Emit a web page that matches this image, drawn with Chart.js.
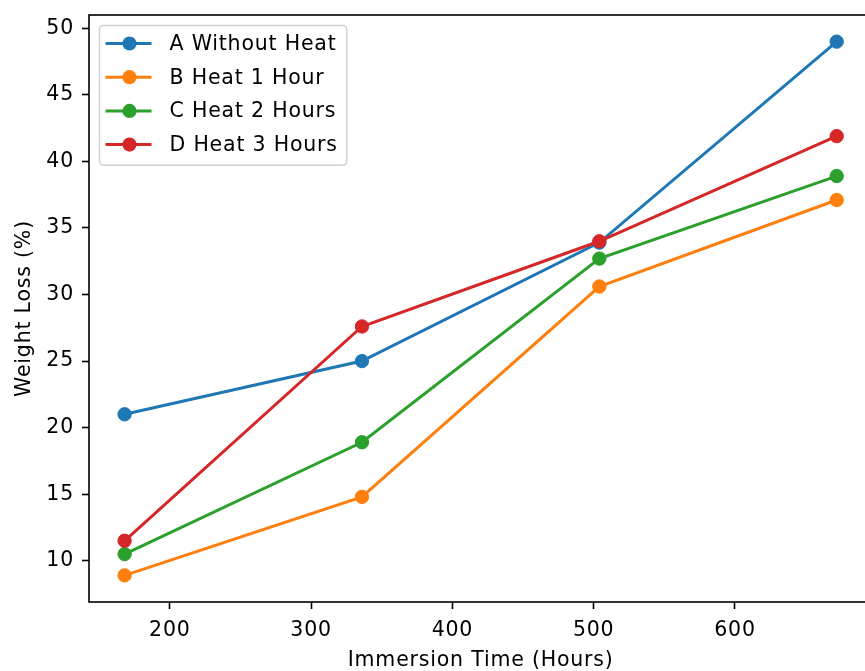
<!DOCTYPE html>
<html>
<head>
<meta charset="utf-8">
<title>Weight Loss vs Immersion Time</title>
<script src="https://cdn.jsdelivr.net/npm/chart.js@4.4.1/dist/chart.umd.min.js"></script>
<style>
	html, body { margin: 0; padding: 0; background: #fff; overflow: hidden; }
	#grafik { display: block; }
</style>
</head>
<body>
<canvas id="grafik" width="880" height="671"></canvas>
<script>
// immersion time (hours)
var jam = [168, 336, 504, 672];

// weight loss (%)
var tanpaPanas = [21.0, 25.0, 33.9, 49.0];
var panas1Jam = [8.9, 14.8, 30.6, 37.1];
var panas2Jam = [10.5, 18.9, 32.7, 38.9];
var panas3Jam = [11.5, 27.6, 34.0, 41.9];

var label = ['A Without Heat', 'B Heat 1 Hour', 'C Heat 2 Hours', 'D Heat 3 Hours'];

var xTicks = [200, 300, 400, 500, 600];
var yTicks = [10, 15, 20, 25, 30, 35, 40, 45, 50];

var warna = ['#1f77b4', '#ff7f0e', '#2ca02c', '#d62728'];
var FONT = 20.5;
var SPASI = '0.8px';

function titik(values) {
	var out = [];
	for (var i = 0; i < jam.length; i++) {
		out.push({ x: jam[i], y: values[i] });
	}
	return out;
}

function dataset(i, values) {
	return {
		label: label[i],
		data: titik(values),
		borderColor: warna[i],
		backgroundColor: warna[i],
		pointBackgroundColor: warna[i],
		pointBorderColor: warna[i],
		borderWidth: 3,
		pointRadius: 6.7,
		pointBorderWidth: 1,
		pointHoverRadius: 6.7,
		tension: 0,
		// later series on top, like matplotlib
		order: 3 - i
	};
}

// matplotlib text runs a bit wider than canvas text
var spasi = {
	id: 'spasi',
	beforeLayout: function (chart) { chart.ctx.letterSpacing = SPASI; },
	beforeDraw: function (chart) { chart.ctx.letterSpacing = SPASI; }
};

// axes frame drawn on all four sides
var bingkai = {
	id: 'bingkai',
	afterDatasetsDraw: function (chart) {
		var a = chart.chartArea;
		var ctx = chart.ctx;
		ctx.save();
		ctx.strokeStyle = '#000';
		ctx.lineWidth = 1.6;
		ctx.strokeRect(a.left, a.top, a.right - a.left, a.bottom - a.top);
		ctx.restore();
	}
};

// legend inside the plot, upper left
var legenda = {
	id: 'legenda',
	afterDraw: function (chart) {
		var a = chart.chartArea;
		var ctx = chart.ctx;
		var sets = chart.data.datasets;
		var x0 = a.left + 10.5;
		var y0 = a.top + 10.5;
		var rowH = 33.7;
		var textX = x0 + 70;
		ctx.save();
		ctx.letterSpacing = SPASI;
		ctx.font = FONT + 'px "DejaVu Sans"';
		var maxW = 0;
		for (var i = 0; i < sets.length; i++) {
			maxW = Math.max(maxW, ctx.measureText(sets[i].label).width);
		}
		var w = textX + maxW + 9 - x0;
		var h = rowH * sets.length + 5;

		ctx.beginPath();
		ctx.roundRect(x0, y0, w, h, 4);
		ctx.fillStyle = 'rgba(255,255,255,0.8)';
		ctx.fill();
		ctx.strokeStyle = '#d0d0d0';
		ctx.lineWidth = 1.5;
		ctx.stroke();

		for (var i = 0; i < sets.length; i++) {
			var cy = y0 + 18 + i * rowH;
			ctx.strokeStyle = sets[i].borderColor;
			ctx.lineWidth = 3;
			ctx.beginPath();
			ctx.moveTo(x0 + 6, cy);
			ctx.lineTo(x0 + 52, cy);
			ctx.stroke();
			ctx.fillStyle = sets[i].borderColor;
			ctx.beginPath();
			ctx.arc(x0 + 30, cy, 7.1, 0, Math.PI * 2);
			ctx.fill();
			ctx.fillStyle = '#000';
			ctx.textBaseline = 'middle';
			ctx.textAlign = 'left';
			ctx.fillText(sets[i].label, textX, cy + 1);
		}
		ctx.restore();
	}
};

Chart.defaults.font.family = '"DejaVu Sans", sans-serif';
Chart.defaults.font.size = FONT;
Chart.defaults.color = '#000';

var ctx = document.getElementById('grafik');

var lineGraph = new Chart(ctx, {
	type: 'line',
	data: {
		datasets: [
			dataset(0, tanpaPanas),
			dataset(1, panas1Jam),
			dataset(2, panas2Jam),
			dataset(3, panas3Jam)
		]
	},
	options: {
		responsive: false,
		animation: false,
		devicePixelRatio: 1,
		layout: { padding: { left: 0, top: 15, right: 3, bottom: 0 } },
		plugins: {
			legend: { display: false },
			tooltip: { enabled: false }
		},
		scales: {
			x: {
				type: 'linear',
				min: 142.8,
				max: 697.2,
				afterBuildTicks: function (scale) {
					scale.ticks = xTicks.map(function (v) { return { value: v }; });
				},
				afterFit: function (scale) {
					scale.height = 69;
					scale.paddingLeft = 0;
					scale.paddingRight = 0;
				},
				ticks: { padding: 9, maxRotation: 0, autoSkip: false },
				grid: {
					display: true,
					drawOnChartArea: false,
					drawTicks: true,
					tickLength: 7,
					tickColor: '#000',
					tickWidth: 1.6
				},
				border: { display: false },
				title: {
					display: true,
					text: 'Immersion Time (Hours)',
					padding: { top: 0, bottom: -2 }
				}
			},
			y: {
				type: 'linear',
				min: 6.9,
				max: 51.0,
				afterBuildTicks: function (scale) {
					scale.ticks = yTicks.map(function (v) { return { value: v }; });
				},
				afterFit: function (scale) {
					scale.width = 89;
					scale.paddingTop = 0;
					scale.paddingBottom = 0;
				},
				ticks: { padding: 8, autoSkip: false },
				grid: {
					display: true,
					drawOnChartArea: false,
					drawTicks: true,
					tickLength: 7,
					tickColor: '#000',
					tickWidth: 1.6
				},
				border: { display: false },
				title: {
					display: true,
					text: 'Weight Loss (%)',
					padding: { top: 12, bottom: 0 }
				}
			}
		}
	},
	plugins: [spasi, bingkai, legenda]
});
</script>
</body>
</html>
